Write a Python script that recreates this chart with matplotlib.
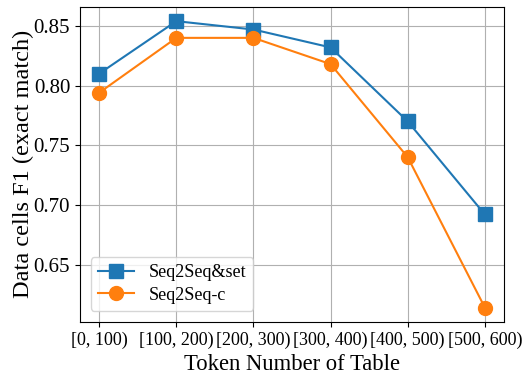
import matplotlib
matplotlib.use("Agg")
import matplotlib.pyplot as plt

plt.rcParams['font.family'] = ['Liberation Serif', 'DejaVu Serif']

# data
bins = ['[0, 100)', '[100, 200)', '[200, 300)', '[300, 400)', '[400, 500)', '[500, 600)']
seq2seq_set = [0.810, 0.854, 0.847, 0.832, 0.770, 0.692]
seq2seq_c = [0.794, 0.840, 0.840, 0.818, 0.740, 0.614]

fig = plt.figure(figsize=(5.29, 3.8), dpi=100)
ax = fig.add_subplot(111)
fig.subplots_adjust(left=0.151, right=0.953, top=0.982, bottom=0.153)

x = range(len(bins))
ax.plot(x, seq2seq_set, marker='s', markersize=10, color='#1f77b4', label='Seq2Seq&set')
ax.plot(x, seq2seq_c, marker='o', markersize=10, color='#ff7f0e', label='Seq2Seq-c')

ax.set_xticks(list(x))
ax.set_xticklabels(bins, fontsize=13)
ax.set_yticks([0.65, 0.70, 0.75, 0.80, 0.85])
ax.tick_params(axis='y', labelsize=15)
ax.set_ylim(0.602, 0.866)
ax.grid(True, color='#b0b0b0', linewidth=0.8)
ax.set_xlabel('Token Number of Table', fontsize=16.3)
ax.set_ylabel('Data cells F1 (exact match)', fontsize=17.5)
ax.yaxis.set_label_coords(-0.108, 0.5)
ax.legend(loc='lower left', fontsize=13, borderaxespad=0.6, labelspacing=0.3)

fig.savefig('out.png', dpi=100)
